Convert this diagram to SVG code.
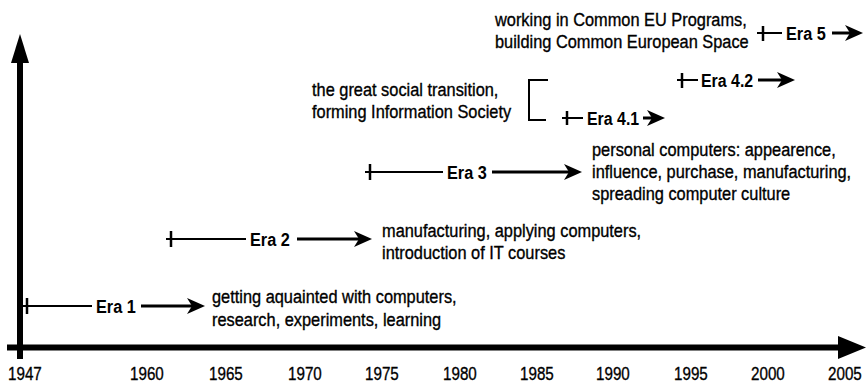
<svg xmlns="http://www.w3.org/2000/svg" width="867" height="383" viewBox="0 0 867 383">
<style>
.t{font-family:"Liberation Sans",Arial,sans-serif;font-size:18.5px;fill:#000;stroke:#000;stroke-width:0.35px}
.y{font-family:"Liberation Sans",Arial,sans-serif;font-size:19px;fill:#000;stroke:#000;stroke-width:0.35px}
.b{font-family:"Liberation Sans",Arial,sans-serif;font-size:18.5px;font-weight:bold;fill:#000}
.thin{stroke:#000;stroke-width:2;fill:none}
.tick{stroke:#000;stroke-width:2.5;fill:none}
.arr{stroke:#000;stroke-width:3;fill:none;marker-end:url(#ah)}
.ax{stroke:#000;stroke-width:6;fill:none}
</style>
<defs>
<marker id="ah" markerUnits="userSpaceOnUse" viewBox="0 0 18 16" refX="8" refY="8" markerWidth="18" markerHeight="16" orient="auto">
<path d="M0,0 L18,8 L0,16 L5,8 Z" fill="#000"/>
</marker>
</defs>
<rect width="867" height="383" fill="#fff"/>
<g id="axes">
<line class="ax" x1="20" y1="58" x2="20" y2="359"/>
<polygon points="20,34 11,63 29,63" fill="#000"/>
<line class="ax" x1="7" y1="347.5" x2="842" y2="347.5"/>
<polygon points="866,347.5 838,336 838,359" fill="#000"/>
</g>
<g id="years">
<text class="y" transform="translate(8,380) scale(0.8,1)">1947</text>
<text class="y" transform="translate(130,380) scale(0.8,1)">1960</text>
<text class="y" transform="translate(209,380) scale(0.8,1)">1965</text>
<text class="y" transform="translate(288,380) scale(0.8,1)">1970</text>
<text class="y" transform="translate(365,380) scale(0.8,1)">1975</text>
<text class="y" transform="translate(443,380) scale(0.8,1)">1980</text>
<text class="y" transform="translate(520,380) scale(0.8,1)">1985</text>
<text class="y" transform="translate(596,380) scale(0.8,1)">1990</text>
<text class="y" transform="translate(674,380) scale(0.8,1)">1995</text>
<text class="y" transform="translate(751,380) scale(0.8,1)">2000</text>
<text class="y" transform="translate(828,380) scale(0.8,1)">2005</text>
</g>
<g id="era1">
<line class="tick" x1="27" y1="298" x2="27" y2="314"/>
<line class="thin" x1="23" y1="306" x2="92" y2="306"/>
<text class="b" transform="translate(96,312.5) scale(0.88,1)">Era 1</text>
<line class="arr" x1="141" y1="306" x2="195" y2="306"/>
</g>
<g id="desc1">
<text class="t" transform="translate(212,303) scale(0.885,1)">getting aquainted with computers,</text>
<text class="t" transform="translate(212,326) scale(0.885,1)">research, experiments, learning</text>
</g>
<g id="era2">
<line class="tick" x1="171" y1="231" x2="171" y2="247"/>
<line class="thin" x1="166" y1="239" x2="246" y2="239"/>
<text class="b" transform="translate(250,245.5) scale(0.88,1)">Era 2</text>
<line class="arr" x1="297" y1="239" x2="362" y2="239"/>
</g>
<g id="desc2">
<text class="t" transform="translate(382,237) scale(0.885,1)">manufacturing, applying computers,</text>
<text class="t" transform="translate(382,259) scale(0.885,1)">introduction of IT courses</text>
</g>
<g id="era3">
<line class="tick" x1="370" y1="164" x2="370" y2="180"/>
<line class="thin" x1="365" y1="172" x2="443" y2="172"/>
<text class="b" transform="translate(447,178.5) scale(0.88,1)">Era 3</text>
<line class="arr" x1="492" y1="172" x2="572" y2="172"/>
</g>
<g id="desc3">
<text class="t" transform="translate(592,156) scale(0.885,1)">personal computers: appearence,</text>
<text class="t" transform="translate(592,178) scale(0.885,1)">influence, purchase, manufacturing,</text>
<text class="t" transform="translate(592,200) scale(0.885,1)">spreading computer culture</text>
</g>
<g id="desc4">
<text class="t" transform="translate(312,96) scale(0.885,1)">the great social transition,</text>
<text class="t" transform="translate(312,118) scale(0.885,1)">forming Information Society</text>
</g>
<g id="bracket">
<polyline class="thin" points="548,80 529,80 529,120 546,120"/>
</g>
<g id="era41">
<line class="tick" x1="567" y1="111" x2="567" y2="125"/>
<line class="thin" x1="562" y1="118" x2="583" y2="118"/>
<text class="b" transform="translate(587,124.5) scale(0.86,1)">Era 4.1</text>
<line class="arr" x1="643" y1="118" x2="655" y2="118"/>
</g>
<g id="era42">
<line class="tick" x1="682" y1="73" x2="682" y2="88"/>
<line class="thin" x1="677" y1="80" x2="698" y2="80"/>
<text class="b" transform="translate(701,86.5) scale(0.86,1)">Era 4.2</text>
<line class="arr" x1="758" y1="80" x2="785" y2="80"/>
</g>
<g id="desc5">
<text class="t" transform="translate(495,26) scale(0.885,1)">working in Common EU Programs,</text>
<text class="t" transform="translate(495,48) scale(0.885,1)">building Common European Space</text>
</g>
<g id="era5">
<line class="tick" x1="763" y1="26" x2="763" y2="41"/>
<line class="thin" x1="757" y1="33" x2="782" y2="33"/>
<text class="b" transform="translate(786,39.5) scale(0.88,1)">Era 5</text>
<line class="arr" x1="832" y1="33" x2="853" y2="33"/>
</g>
</svg>
